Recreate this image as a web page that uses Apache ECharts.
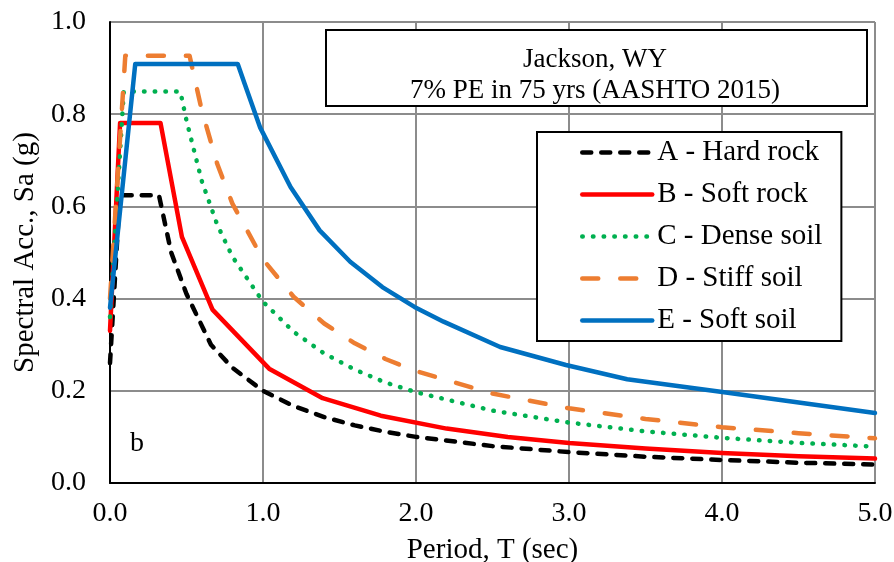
<!DOCTYPE html>
<html>
<head>
<meta charset="utf-8">
<script src="https://cdn.jsdelivr.net/npm/echarts@6/dist/echarts.min.js"></script>
<style>
html,body{margin:0;padding:0;background:#fff;}
#chart{width:894px;height:562px;}
</style>
</head>
<body>
<div id="chart"></div>
<script>
// ---- data ----
var seriesNames = ['A - Hard rock', 'B - Soft rock', 'C - Dense soil', 'D - Stiff soil', 'E - Soft soil'];

var periodA = [0, 0.064, 0.32, 0.4, 0.5, 0.66, 0.8, 1.0, 1.2, 1.4, 1.6, 1.8, 2.0, 2.5, 3.0, 3.5, 4.0, 4.5, 5.0];
var saA     = [0.26, 0.624, 0.624, 0.50, 0.41, 0.30, 0.25, 0.20, 0.167, 0.143, 0.125, 0.111, 0.10, 0.08, 0.067, 0.057, 0.05, 0.044, 0.04];

var periodB = [0, 0.066, 0.33, 0.47, 0.67, 1.04, 1.39, 1.77, 2.2, 2.6, 3.0, 3.5, 4.0, 4.5, 5.0];
var saB     = [0.33, 0.781, 0.781, 0.534, 0.376, 0.248, 0.184, 0.146, 0.118, 0.10, 0.087, 0.075, 0.065, 0.058, 0.053];

var periodC = [0, 0.09, 0.46, 0.5, 0.6, 0.7, 0.8, 1.0, 1.2, 1.4, 1.6, 1.8, 2.0, 2.5, 3.0, 3.5, 4.0, 4.5, 5.0];
var saC     = [0.36, 0.849, 0.849, 0.786, 0.655, 0.561, 0.491, 0.393, 0.328, 0.281, 0.246, 0.218, 0.197, 0.157, 0.131, 0.112, 0.098, 0.087, 0.079];

var periodD = [0, 0.10, 0.52, 0.6, 0.7, 0.8, 1.0, 1.2, 1.4, 1.6, 1.8, 2.0, 2.5, 3.0, 3.5, 4.0, 4.5, 5.0];
var saD     = [0.40, 0.927, 0.927, 0.808, 0.693, 0.606, 0.485, 0.404, 0.346, 0.303, 0.269, 0.243, 0.194, 0.162, 0.139, 0.121, 0.108, 0.097];

var periodE = [0, 0.165, 0.835, 0.88, 0.98, 1.18, 1.37, 1.57, 1.78, 1.99, 2.18, 2.55, 2.98, 3.38, 3.99, 5.0];
var saE     = [0.38, 0.909, 0.909, 0.866, 0.772, 0.642, 0.548, 0.48, 0.425, 0.382, 0.35, 0.295, 0.256, 0.225, 0.198, 0.152];

var xTicks = [0, 1, 2, 3, 4, 5];
var yTicks = [0, 0.2, 0.4, 0.6, 0.8, 1.0];

var titleLines = ['Jackson, WY', '7% PE in 75 yrs (AASHTO 2015)'];
var panelLabel = 'b';
var xTitle = 'Period, T (sec)';
var yTitle = 'Spectral Acc., Sa (g)';

// ---- build ----
function pairs(xs, ys) { return xs.map(function (x, i) { return [x, ys[i]]; }); }
var FONT = 'Liberation Serif';

var styles = [
  { color: '#000000', type: [9, 10] },
  { color: '#ff0000', type: 'solid' },
  { color: '#00b050', type: [0.5, 10.2] },
  { color: '#ed7d31', type: [16, 22] },
  { color: '#0070c0', type: 'solid' }
];
var periods = [periodA, periodB, periodC, periodD, periodE];
var values = [saA, saB, saC, saD, saE];

var series = seriesNames.map(function (n, i) {
  return {
    name: n,
    type: 'line',
    data: pairs(periods[i], values[i]),
    symbol: 'none',
    showSymbol: false,
    smooth: false,
    animation: false,
    lineStyle: { color: styles[i].color, width: 4.5, type: styles[i].type, cap: 'round', join: 'round' },
    itemStyle: { color: styles[i].color },
    z: 2 + i
  };
});

var chart = echarts.init(document.getElementById('chart'));
chart.setOption({
  animation: false,
  backgroundColor: '#ffffff',
  textStyle: { fontFamily: FONT, color: '#000' },
  grid: { left: 110, right: 19, top: 22, bottom: 79, containLabel: false, outerBoundsMode: 'none' },
  xAxis: {
    type: 'value', min: xTicks[0], max: xTicks[xTicks.length - 1], interval: 1,
    name: xTitle, nameLocation: 'middle', nameGap: 53,
    nameTextStyle: { fontFamily: FONT, fontSize: 29, color: '#000' },
    axisLine: { show: true, onZero: false, lineStyle: { color: '#000', width: 2 } },
    axisTick: { show: false },
    axisLabel: { fontFamily: FONT, fontSize: 28, color: '#000', margin: 17, formatter: function (v) { return v.toFixed(1); } },
    splitLine: { show: true, lineStyle: { color: '#8c8c8c', width: 2 } }
  },
  yAxis: {
    type: 'value', min: yTicks[0], max: yTicks[yTicks.length - 1], interval: 0.2,
    name: yTitle, nameLocation: 'middle', nameGap: 68, nameRotate: 90,
    nameTextStyle: { fontFamily: FONT, fontSize: 29, color: '#000' },
    axisLine: { show: true, onZero: false, lineStyle: { color: '#000', width: 2 } },
    axisTick: { show: false },
    axisLabel: { fontFamily: FONT, fontSize: 28, color: '#000', margin: 24, formatter: function (v) { return v.toFixed(1); } },
    splitLine: { show: true, lineStyle: { color: '#8c8c8c', width: 2 } }
  },
  legend: {
    orient: 'vertical',
    left: 537, top: 132,
    data: seriesNames,
    itemWidth: 70, itemHeight: 26, itemGap: 13,
    padding: [6, 19, 6, 43],
    backgroundColor: '#fff',
    borderColor: '#000', borderWidth: 2,
    itemStyle: { opacity: 0 },
    lineStyle: { width: 4.5 },
    textStyle: { fontFamily: FONT, fontSize: 29, lineHeight: 27, color: '#000' },
    selectedMode: false
  },
  graphic: [
    { type: 'rect', left: 325, top: 29, z: 100, shape: { width: 541, height: 76 }, style: { fill: '#fff', stroke: '#000', lineWidth: 2 } },
    { type: 'text', x: 595, y: 60, z: 101, style: { text: titleLines[0], font: '27px Liberation Serif', fill: '#000', align: 'center', verticalAlign: 'middle' } },
    { type: 'text', x: 595, y: 91, z: 101, style: { text: titleLines[1], font: '27px Liberation Serif', fill: '#000', align: 'center', verticalAlign: 'middle' } },
    { type: 'text', x: 137, y: 444, z: 101, style: { text: panelLabel, font: '28px Liberation Serif', fill: '#000', align: 'center', verticalAlign: 'middle' } }
  ],
  series: series
});
</script>
</body>
</html>
